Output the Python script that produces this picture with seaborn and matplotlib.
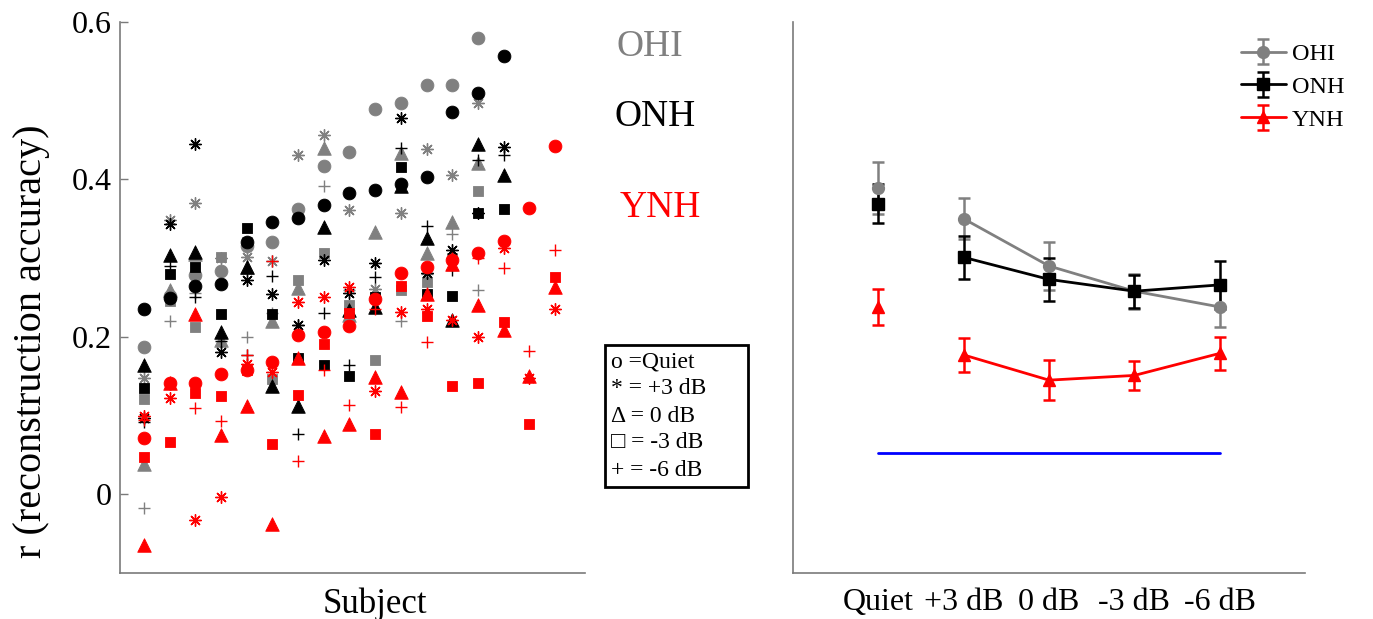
import numpy as np
import pandas as pd
import matplotlib
matplotlib.use("Agg")
import matplotlib.pyplot as plt
import seaborn as sns
from matplotlib.patches import Rectangle

# ---------------- data ----------------
groups = ["OHI", "ONH", "YNH"]
conditions = ["Quiet", "+3 dB", "0 dB", "-3 dB", "-6 dB"]

# per-subject reconstruction accuracy, one list per condition (subjects sorted by Quiet score)
ohi_quiet = [0.187, 0.252, 0.278, 0.284, 0.315, 0.320, 0.362, 0.417, 0.435, 0.489, 0.497, 0.520, 0.520, 0.580]
ohi_p3 = [0.148, 0.348, 0.370, 0.300, 0.302, 0.296, 0.431, 0.456, 0.361, 0.261, 0.357, 0.439, 0.405, 0.497]
ohi_0 = [0.039, 0.259, 0.305, 0.196, 0.289, 0.220, 0.262, 0.440, 0.228, 0.333, 0.434, 0.306, 0.346, 0.421]
ohi_m3 = [0.121, 0.245, 0.212, 0.302, 0.320, 0.146, 0.272, 0.306, 0.240, 0.170, 0.259, 0.270, 0.300, 0.385]
ohi_m6 = [-0.017, 0.220, 0.256, 0.200, 0.200, 0.230, 0.215, 0.391, 0.260, 0.250, 0.220, 0.280, 0.331, 0.259]

onh_quiet = [0.235, 0.249, 0.264, 0.267, 0.320, 0.346, 0.351, 0.368, 0.383, 0.387, 0.394, 0.403, 0.486, 0.510, 0.557]
onh_p3 = [0.097, 0.343, 0.445, 0.181, 0.272, 0.254, 0.215, 0.298, 0.256, 0.294, 0.478, 0.281, 0.310, 0.357, 0.441]
onh_0 = [0.164, 0.304, 0.308, 0.206, 0.289, 0.137, 0.112, 0.340, 0.234, 0.238, 0.391, 0.326, 0.221, 0.445, 0.405]
onh_m3 = [0.135, 0.280, 0.289, 0.229, 0.338, 0.229, 0.173, 0.164, 0.150, 0.250, 0.416, 0.255, 0.252, 0.357, 0.362]
onh_m6 = [0.092, 0.290, 0.250, 0.195, 0.177, 0.277, 0.076, 0.230, 0.164, 0.276, 0.440, 0.341, 0.285, 0.425, 0.431]

ynh_quiet = [0.071, 0.141, 0.141, 0.153, 0.158, 0.168, 0.202, 0.206, 0.214, 0.248, 0.281, 0.289, 0.298, 0.306, 0.322, 0.364, 0.443]
ynh_p3 = [0.100, 0.122, -0.033, -0.004, 0.166, 0.155, 0.244, 0.250, 0.263, 0.131, 0.231, 0.236, 0.221, 0.200, 0.313, 0.148, 0.235]
ynh_0 = [-0.064, 0.141, 0.229, 0.075, 0.112, -0.038, 0.173, 0.074, 0.089, 0.149, 0.130, 0.255, 0.293, 0.240, 0.209, 0.150, 0.263]
ynh_m3 = [0.047, 0.067, 0.129, 0.125, 0.158, 0.064, 0.126, 0.191, 0.230, 0.076, 0.264, 0.226, 0.137, 0.141, 0.219, 0.089, 0.276]
ynh_m6 = [0.095, 0.140, 0.109, 0.093, 0.177, 0.296, 0.042, 0.158, 0.114, 0.235, 0.111, 0.193, 0.300, 0.300, 0.288, 0.182, 0.310]

# group means and standard errors per condition
ohi_mean = [0.389, 0.350, 0.290, 0.258, 0.238]
ohi_sem = [0.033, 0.026, 0.030, 0.022, 0.026]
onh_mean = [0.369, 0.301, 0.273, 0.258, 0.266]
onh_sem = [0.025, 0.027, 0.027, 0.021, 0.030]
ynh_mean = [0.238, 0.177, 0.145, 0.151, 0.179]
ynh_sem = [0.023, 0.022, 0.025, 0.018, 0.021]
chance_level = 0.052

y_ticks = [0, 0.2, 0.4, 0.6]
y_tick_labels = ["0", "0.2", "0.4", "0.6"]
key_lines = ["o =Quiet", "* = +3 dB", "\u0394 = 0 dB", "\u25a1 = -3 dB", "+ = -6 dB"]

# ---------------- long-form table ----------------
subject_scores = {
    "OHI": [ohi_quiet, ohi_p3, ohi_0, ohi_m3, ohi_m6],
    "ONH": [onh_quiet, onh_p3, onh_0, onh_m3, onh_m6],
    "YNH": [ynh_quiet, ynh_p3, ynh_0, ynh_m3, ynh_m6],
}
rows = []
for g in groups:
    for c, vals in zip(conditions, subject_scores[g]):
        for i, v in enumerate(vals):
            rows.append({"group": g, "condition": c, "subject": i + 1, "r": v})
df = pd.DataFrame(rows)

# ---------------- style ----------------
sns.set_theme(style="white")
plt.rcParams["font.family"] = ["Liberation Serif", "DejaVu Serif"]
plt.rcParams["axes.unicode_minus"] = False
plt.rcParams["text.color"] = "black"
plt.rcParams["axes.labelcolor"] = "black"
plt.rcParams["xtick.color"] = "black"
plt.rcParams["ytick.color"] = "black"

colors = {"OHI": "#808080", "ONH": "#000000", "YNH": "#ff0000"}
markers = {"Quiet": "o", "+3 dB": (8, 2, 0), "0 dB": "^", "-3 dB": "s", "-6 dB": "+"}
sizes = {"Quiet": 85, "+3 dB": 70, "0 dB": 95, "-3 dB": 55, "-6 dB": 80}
summary_markers = {"OHI": "o", "ONH": "s", "YNH": "^"}
spine_col = "#7a7a7a"

fig = plt.figure(figsize=(13.73, 6.19), dpi=100)
ax1 = fig.add_axes([0.0874, 0.0743, 0.3387, 0.8902])
ax2 = fig.add_axes([0.5776, 0.0743, 0.3729, 0.8902])

# ---------------- left: individual subjects ----------------
for g in groups:
    for c in conditions:
        sub = df[(df.group == g) & (df.condition == c)]
        m = markers[c]
        filled = matplotlib.markers.MarkerStyle(m).is_filled()
        kw = dict(edgecolor=colors[g], linewidth=0.6) if filled else dict(linewidth=1.0)
        sns.scatterplot(data=sub, x="subject", y="r", marker=m, s=sizes[c],
                        color=colors[g], ax=ax1, legend=False, zorder=3, **kw)

ax1.set_xlim(0.07, 18.17)
ax1.set_ylim(-0.1, 0.6)
ax1.set_xticks([])
ax1.set_yticks(y_ticks)
ax1.set_yticklabels(y_tick_labels, fontsize=23)
ax1.tick_params(axis="y", direction="in", length=6, width=1, color=spine_col, pad=6, left=True)
for side in ["top", "right"]:
    ax1.spines[side].set_visible(False)
for side in ["left", "bottom"]:
    ax1.spines[side].set_color(spine_col)
    ax1.spines[side].set_linewidth(1.2)
ax1.set_ylabel("r (reconstruction accuracy)", fontsize=29)
ax1.yaxis.set_label_coords(-0.15, 0.42)
ax1.set_xlabel("Subject", fontsize=25)
ax1.xaxis.set_label_coords(0.548, -0.027)

# group names
fig.text(650 / 1373, 1 - 47 / 619, "OHI", color=colors["OHI"], fontsize=27, ha="center", va="center")
fig.text(655 / 1373, 1 - 117 / 619, "ONH", color=colors["ONH"], fontsize=27, ha="center", va="center")
fig.text(660 / 1373, 1 - 208 / 619, "YNH", color=colors["YNH"], fontsize=27, ha="center", va="center")

# marker key box
fig.patches.append(Rectangle((605 / 1373, 1 - 487 / 619), 143 / 1373, 142 / 619,
                             transform=fig.transFigure, fill=True, facecolor="white",
                             edgecolor="black", linewidth=2, zorder=5))
for k, line in enumerate(key_lines):
    fig.text(611 / 1373, 1 - (362 + 27 * k) / 619, line, fontsize=17, ha="left", va="center",
             zorder=6)

# ---------------- right: group means ----------------
xpos = np.arange(len(conditions))
summary = {"OHI": (ohi_mean, ohi_sem), "ONH": (onh_mean, onh_sem), "YNH": (ynh_mean, ynh_sem)}
handles = []
for g in groups:
    mean, sem = summary[g]
    eb_kw = dict(color=colors[g], marker=summary_markers[g], markersize=8.5,
                 elinewidth=1.8, capsize=4, capthick=1.8, zorder=3)
    # Quiet stands alone, the noise conditions are joined
    ax2.errorbar(xpos[:1], mean[:1], yerr=sem[:1], linestyle="none", **eb_kw)
    h = ax2.errorbar(xpos[1:], mean[1:], yerr=sem[1:], linestyle="-", linewidth=2, label=g, **eb_kw)
    handles.append(h)

sns.lineplot(x=[xpos[0], xpos[-1]], y=[chance_level, chance_level], color="#0000ff",
             linewidth=2, ax=ax2, zorder=2)

ax2.set_xlim(-1, 5)
ax2.set_ylim(-0.1, 0.6)
ax2.set_yticks([])
ax2.set_xticks(xpos)
ax2.set_xticklabels(conditions, fontsize=23)
ax2.tick_params(axis="x", length=0, pad=11)
for side in ["top", "right"]:
    ax2.spines[side].set_visible(False)
for side in ["left", "bottom"]:
    ax2.spines[side].set_color(spine_col)
    ax2.spines[side].set_linewidth(1.2)

ax2.legend(handles=handles, labels=groups, loc="upper left", frameon=False, fontsize=17.5,
           bbox_to_anchor=(1241 / 1373, 1 - 43 / 619), bbox_transform=fig.transFigure,
           borderaxespad=0, borderpad=0, handlelength=1.85, handletextpad=0.25, labelspacing=0.45)

fig.savefig("out.png", dpi=100)
